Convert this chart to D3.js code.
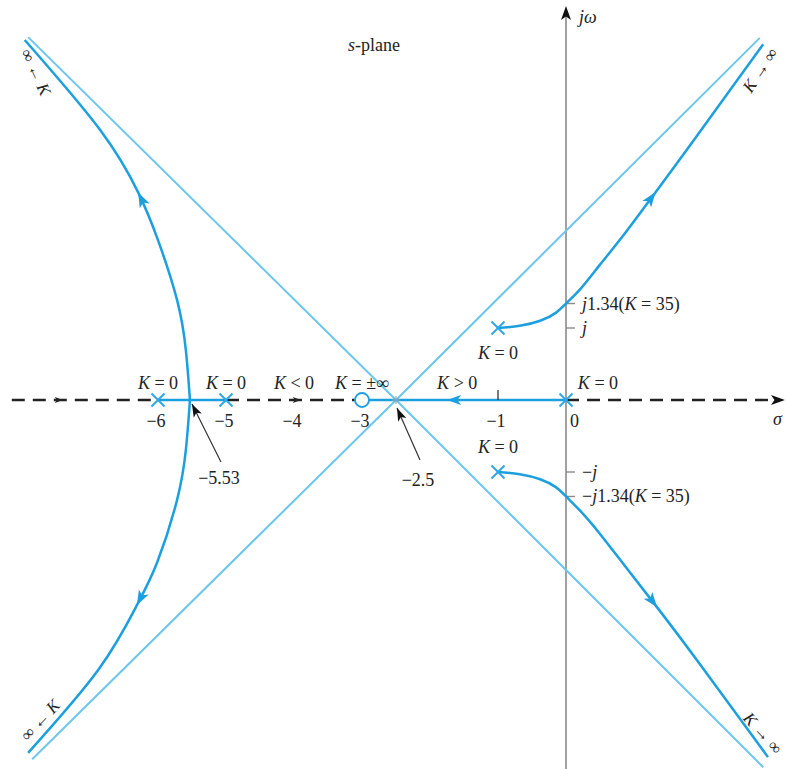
<!DOCTYPE html>
<html>
<head>
<meta charset="utf-8">
<script src="https://cdn.jsdelivr.net/npm/d3@7/dist/d3.min.js"></script>
<style>
  html, body { margin: 0; padding: 0; background: #fff; }
  svg text { font-family: "Liberation Serif", "DejaVu Serif", serif; fill: #222; }
</style>
</head>
<body>
<svg id="chart" width="786" height="769"></svg>
<script>
// Root locus of G(s)H(s) = K(s + 3) / [s(s + 5)(s + 6)(s^2 + 2s + 2)]

// Open-loop poles and zeros
const poles = [[0, 0], [-1, 1], [-1, -1], [-5, 0], [-6, 0]];
const zeros = [[-3, 0]];

// Real-axis segments of the locus (K > 0) and of the K < 0 locus
const positiveSegments = [[-6, -5], [-3, 0]];
const negativeSegments = [[-8.15, -6], [-5, -3], [0, 3.05]];

// Breakaway point and asymptote centroid
const breakaway = -5.53;
const centroid = -2.5;

// Branches of the locus (sigma, omega)
const branchUpperLeft = [[-5.53, 0], [-5.59, 0.69], [-5.72, 1.39], [-6.0, 2.22],
  [-6.29, 2.88], [-6.85, 3.75], [-7.96, 5.0]];
const branchLowerLeft = [[-5.53, 0], [-5.59, -0.69], [-5.72, -1.39], [-6.01, -2.25],
  [-6.31, -2.85], [-6.88, -3.75], [-7.91, -4.9]];
const branchUpperRight = [[-1, 1], [-0.68, 1.03], [-0.38, 1.1], [-0.15, 1.21], [0, 1.34],
  [0.21, 1.54], [0.5, 1.88], [0.87, 2.32], [1.32, 2.89], [1.82, 3.53], [2.9, 4.94]];
const branchLowerRight = [[-1, -1], [-0.68, -1.03], [-0.38, -1.1], [-0.15, -1.21], [0, -1.34],
  [0.21, -1.54], [0.5, -1.86], [0.87, -2.31], [1.34, -2.88], [1.97, -3.67], [2.97, -4.96]];

// Asymptotes through the centroid
const asymptotes = [
  [[-7.91, 5.04], [centroid, 0], [2.9, -5.1]],
  [[-7.85, -4.99], [centroid, 0], [2.85, 5.03]]
];

// Direction arrows on each branch: [branch, sigma, omega]
const branchArrows = [
  ["upperLeft", -6.29, 2.88], ["lowerLeft", -6.31, -2.85],
  ["upperRight", 1.32, 2.89], ["lowerRight", 1.34, -2.88]
];

// Real-axis tick labels
const realTicks = [-6, -5, -4, -3, -1, 0];
const realTickLabels = ["\u22126", "\u22125", "\u22124", "\u22123", "\u22121", "0"];

// Imaginary-axis ticks and labels
const imagTicks = [1.34, 1, -1, -1.34];
const imagTickLabels = [
  [["j", true], ["1.34(", false], ["K", true], [" = 35)", false]],
  [["j", true]],
  [["\u2212", false], ["j", true]],
  [["\u2212", false], ["j", true], ["1.34(", false], ["K", true], [" = 35)", false]]
];

// Gain labels along the real axis
const gainLabelAt = [-6, -5, -4, -3, -1.6, 0.47];
const gainLabels = [
  [["K", true], [" = 0", false]],
  [["K", true], [" = 0", false]],
  [["K", true], [" < 0", false]],
  [["K", true], [" = \u00b1\u221e", false]],
  [["K", true], [" > 0", false]],
  [["K", true], [" = 0", false]]
];

const W = 786, H = 769;
const FS = "18px";
const svg = d3.select("#chart");

const x = d3.scaleLinear().domain([-8, 3]).range([22, 770]);
const y = d3.scaleLinear().domain([-5, 5]).range([760, 40]);

const locusBlue = "#1c9fdf";
const asymBlue = "#6cc6ee";

function richText(sel, parts) {
  parts.forEach(([t, it]) => {
    sel.append("tspan").text(t).style("font-style", it ? "italic" : "normal");
  });
  return sel;
}

function arrowHead(g, px, py, angle, len, wid, color) {
  g.append("path")
    .attr("d", `M0,0 L${-len},${-wid / 2} L${-len * 0.75},0 L${-len},${wid / 2} Z`)
    .attr("transform", `translate(${px},${py}) rotate(${angle})`)
    .attr("fill", color);
}

// jω axis
svg.append("line")
  .attr("x1", x(0)).attr("x2", x(0))
  .attr("y1", 14).attr("y2", H)
  .attr("stroke", "#8a8a8a").attr("stroke-width", 1.6);
arrowHead(svg, x(0), 6, -90, 14, 10, "#111");
svg.append("text").attr("x", x(0) + 13).attr("y", 23).style("font-size", FS)
  .style("font-style", "italic").text("j\u03c9");

// imaginary-axis ticks
imagTicks.forEach((v, i) => {
  svg.append("line").attr("x1", x(0)).attr("x2", x(0) + 9)
    .attr("y1", y(v)).attr("y2", y(v)).attr("stroke", "#8a8a8a").attr("stroke-width", 1.4);
  const t = svg.append("text")
    .attr("x", x(0) + 16)
    .attr("y", y(v) + 6).style("font-size", FS);
  richText(t, imagTickLabels[i]);
});

// asymptotes
const line = d3.line().x(d => x(d[0])).y(d => y(d[1]));
asymptotes.forEach(a => {
  svg.append("path").attr("d", line(a)).attr("fill", "none")
    .attr("stroke", asymBlue).attr("stroke-width", 2);
});

// K < 0 locus on the real axis (dashed)
negativeSegments.forEach(s => {
  svg.append("line").attr("x1", x(s[0])).attr("x2", x(s[1]))
    .attr("y1", y(0)).attr("y2", y(0))
    .attr("stroke", "#222").attr("stroke-width", 2.4)
    .attr("stroke-dasharray", "13,8");
});
// small direction marks on the dashed locus
[-7.4, -3.9].forEach(v => arrowHead(svg, x(v), y(0), 0, 8, 6, "#222"));
// σ axis arrow
arrowHead(svg, x(3.22), y(0), 0, 14, 10, "#111");
svg.append("text").attr("x", 773).attr("y", y(0) + 25).style("font-size", FS)
  .style("font-style", "italic").text("\u03c3");

// K > 0 locus on the real axis
positiveSegments.forEach(s => {
  svg.append("line").attr("x1", x(s[0])).attr("x2", x(s[1]))
    .attr("y1", y(0)).attr("y2", y(0))
    .attr("stroke", locusBlue).attr("stroke-width", 2.5);
});
arrowHead(svg, x(-1.75), y(0), 180, 14, 10, locusBlue);

// tick at −1
svg.append("line").attr("x1", x(-1)).attr("x2", x(-1))
  .attr("y1", y(0) - 10).attr("y2", y(0)).attr("stroke", "#222").attr("stroke-width", 1.2);

// centroid mark
svg.append("path")
  .attr("d", `M${x(centroid) - 4},${y(0)} h8 M${x(centroid)},${y(0) - 4} v8`)
  .attr("stroke", "#aaa").attr("stroke-width", 1.2);

// branches
const curve = d3.line().x(d => x(d[0])).y(d => y(d[1])).curve(d3.curveNatural);
const branches = {
  upperLeft: branchUpperLeft, lowerLeft: branchLowerLeft,
  upperRight: branchUpperRight, lowerRight: branchLowerRight
};
const branchPaths = {};
Object.entries(branches).forEach(([k, pts]) => {
  branchPaths[k] = svg.append("path").attr("d", curve(pts)).attr("fill", "none")
    .attr("stroke", locusBlue).attr("stroke-width", 2.5);
});

// direction arrows placed on the branch paths
branchArrows.forEach(([k, s, w]) => {
  const node = branchPaths[k].node();
  const L = node.getTotalLength();
  const tx = x(s), ty = y(w);
  let best = 0, bestD = Infinity;
  for (let l = 0; l <= L; l += 0.5) {
    const p = node.getPointAtLength(l);
    const d = (p.x - tx) ** 2 + (p.y - ty) ** 2;
    if (d < bestD) { bestD = d; best = l; }
  }
  const p0 = node.getPointAtLength(Math.max(0, best - 4));
  const p1 = node.getPointAtLength(Math.min(L, best + 4));
  const ang = Math.atan2(p1.y - p0.y, p1.x - p0.x) * 180 / Math.PI;
  const p = node.getPointAtLength(best);
  arrowHead(svg, p.x, p.y, ang, 15, 11, locusBlue);
});

// zeros
zeros.forEach(z => {
  svg.append("circle").attr("cx", x(z[0])).attr("cy", y(z[1])).attr("r", 7)
    .attr("fill", "#fff").attr("stroke", locusBlue).attr("stroke-width", 1.8);
});

// poles
poles.forEach(p => {
  const cx = x(p[0]), cy = y(p[1]), r = 6.5;
  svg.append("path")
    .attr("d", `M${cx - r},${cy - r} L${cx + r},${cy + r} M${cx - r},${cy + r} L${cx + r},${cy - r}`)
    .attr("stroke", "#2fa8e6").attr("stroke-width", 2);
});

// real-axis tick labels
realTicks.forEach((v, i) => {
  svg.append("text")
    .attr("x", v === 0 ? x(v) + 4 : x(v) - 2)
    .attr("y", y(0) + 27)
    .attr("text-anchor", v === 0 ? "start" : "middle")
    .style("font-size", FS).text(realTickLabels[i]);
});

// gain labels above the real axis
gainLabelAt.forEach((v, i) => {
  const t = svg.append("text").attr("x", x(v)).attr("y", y(0) - 11)
    .attr("text-anchor", "middle").style("font-size", FS);
  richText(t, gainLabels[i]);
});
// gain labels at the complex poles
[[-1, 1, 31], [-1, -1, -19]].forEach(([s, w, dy]) => {
  const t = svg.append("text").attr("x", x(s)).attr("y", y(w) + dy)
    .attr("text-anchor", "middle").style("font-size", FS);
  richText(t, [["K", true], [" = 0", false]]);
});

// annotated points on the real axis
function pointer(tipX, tipY, tailX, tailY, label, lx, ly) {
  const ang = Math.atan2(tipY - tailY, tipX - tailX) * 180 / Math.PI;
  svg.append("line").attr("x1", tailX).attr("y1", tailY).attr("x2", tipX).attr("y2", tipY)
    .attr("stroke", "#333").attr("stroke-width", 1.2);
  arrowHead(svg, tipX, tipY, ang, 13, 9, "#111");
  svg.append("text").attr("x", lx).attr("y", ly).attr("text-anchor", "middle")
    .style("font-size", FS).text(label);
}
pointer(x(breakaway) + 2, y(0) + 4, x(breakaway) + 31, y(0) + 62,
  "\u22125.53", x(breakaway) + 29, y(0) + 84);
pointer(x(centroid) + 1, y(0) + 8, x(centroid) + 24, y(0) + 60,
  "\u22122.5", x(centroid) + 22, y(0) + 86);

// K → ∞ labels along the far ends of the branches
const farLabels = [
  [36, 72, 65, [["\u221e \u2190 ", false], ["K", true]]],
  [760, 70, -56, [["K", true], [" \u2192 \u221e", false]]],
  [40, 720, -47, [["\u221e \u2190 ", false], ["K", true]]],
  [763, 733, 48, [["K", true], [" \u2192 \u221e", false]]]
];
farLabels.forEach(([lx, ly, rot, parts]) => {
  const t = svg.append("text").attr("text-anchor", "middle")
    .attr("transform", `translate(${lx},${ly}) rotate(${rot})`)
    .attr("dy", "0.35em").style("font-size", "17px");
  richText(t, parts);
});

// title
const title = svg.append("text").attr("x", 374).attr("y", 51).attr("text-anchor", "middle")
  .style("font-size", FS);
richText(title, [["s", true], ["-plane", false]]);
</script>
</body>
</html>
